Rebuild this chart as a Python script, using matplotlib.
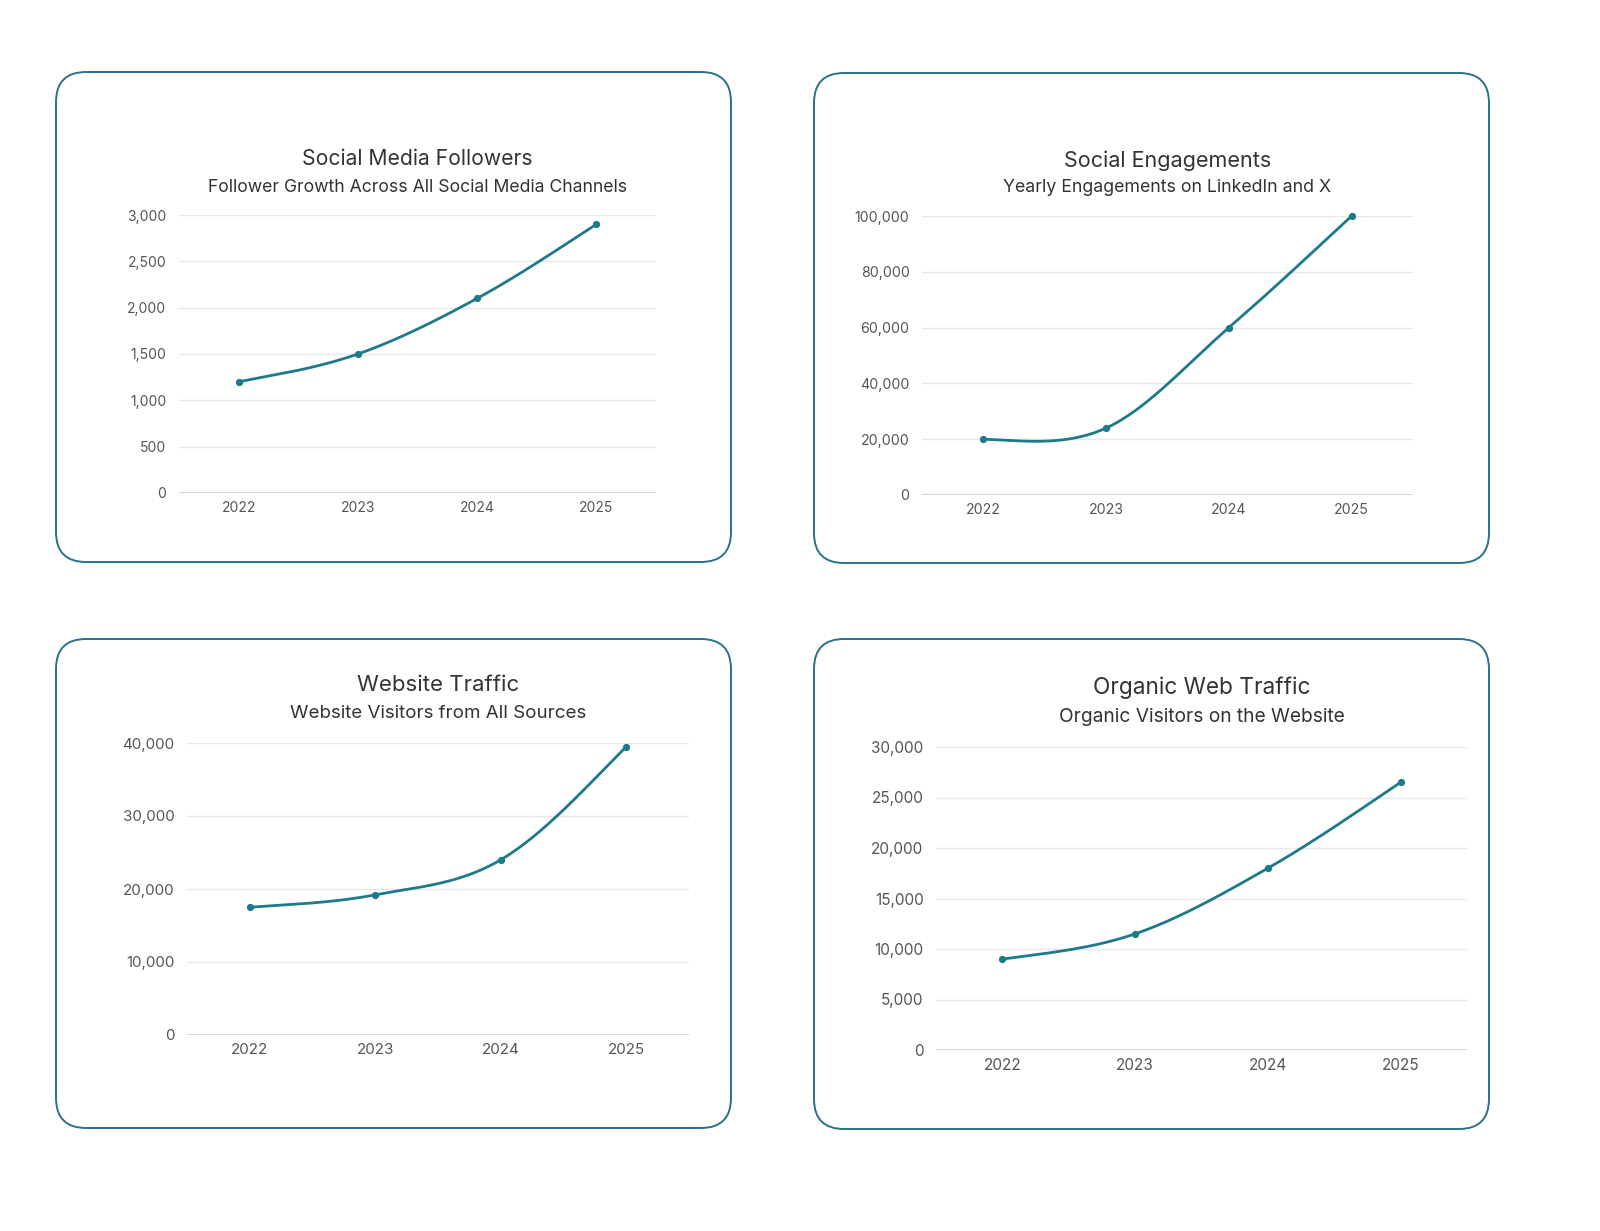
import numpy as np
import matplotlib
matplotlib.use("Agg")
import matplotlib.pyplot as plt
from matplotlib.patches import FancyBboxPatch
from matplotlib.ticker import FuncFormatter
from matplotlib.transforms import IdentityTransform

plt.rcParams['font.family'] = ['Inter', 'DejaVu Sans']

years = ["2022", "2023", "2024", "2025"]
followers = [1200, 1500, 2100, 2900]
engagements = [20000, 24000, 60000, 100000]
website_traffic = [17500, 19200, 24000, 39500]
organic_traffic = [9000, 11500, 18000, 26500]

titles = ["Social Media Followers", "Social Engagements", "Website Traffic", "Organic Web Traffic"]
subtitles = ["Follower Growth Across All Social Media Channels",
             "Yearly Engagements on LinkedIn and X",
             "Website Visitors from All Sources",
             "Organic Visitors on the Website"]
series = [followers, engagements, website_traffic, organic_traffic]
yticks = [list(range(0, 3001, 500)), list(range(0, 100001, 20000)),
          list(range(0, 40001, 10000)), list(range(0, 30001, 5000))]

W, H = 1600, 1231
fig = plt.figure(figsize=(W / 100, H / 100), dpi=100)
fig.patch.set_facecolor("white")

LINE = "#1d7a8a"
BORDER = "#2a7189"

layouts = [
    dict(box=(56, 72, 731, 562), ax=(179, 215, 656, 493), ty=159, sy=187, tfs=15.2, sfs=12.7, kfs=10.0),
    dict(box=(814, 73, 1489, 563), ax=(922, 216, 1413, 495), ty=161, sy=188, tfs=15.5, sfs=12.8, kfs=10.2),
    dict(box=(56, 639, 731, 1128), ax=(187, 743, 689, 1035), ty=685, sy=713, tfs=16.0, sfs=13.5, kfs=10.9),
    dict(box=(814, 639, 1489, 1129), ax=(936, 747, 1467, 1050), ty=688, sy=717, tfs=16.3, sfs=13.8, kfs=11.0),
]


def smooth(y, n=60):
    y = np.asarray(y, dtype=float)
    k = len(y)
    m = np.zeros(k)
    for i in range(1, k - 1):
        m[i] = (y[i + 1] - y[i - 1]) / 2
    d0 = y[1] - y[0]
    d1 = y[-1] - y[-2]
    m[0] = 0.7 * (3 * d0 - m[1]) / 2 + 0.3 * d0
    m[-1] = 0.7 * (3 * d1 - m[-2]) / 2 + 0.3 * d1
    xs, ys = [], []
    for i in range(k - 1):
        t = np.linspace(0, 1, n)
        h00 = 2 * t**3 - 3 * t**2 + 1
        h10 = t**3 - 2 * t**2 + t
        h01 = -2 * t**3 + 3 * t**2
        h11 = t**3 - t**2
        xs.append(i + t)
        ys.append(h00 * y[i] + h10 * m[i] + h01 * y[i + 1] + h11 * m[i + 1])
    return np.concatenate(xs), np.concatenate(ys)


fmt = FuncFormatter(lambda v, p: f"{int(v):,}")

for L, title, sub, vals, yt in zip(layouts, titles, subtitles, series, yticks):
    bx0, by0, bx1, by1 = L["box"]
    box = FancyBboxPatch((bx0 + 15, H - by1 + 15), (bx1 - bx0) - 30, (by1 - by0) - 30,
                         boxstyle="round,pad=15,rounding_size=30",
                         transform=IdentityTransform(), facecolor="none",
                         edgecolor=BORDER, linewidth=1.4, zorder=-1)
    fig.patches.append(box)

    ax0, at, ax1, ab = L["ax"]
    ax = fig.add_axes([ax0 / W, 1 - ab / H, (ax1 - ax0) / W, (ab - at) / H])
    ax.set_facecolor("none")
    x = np.arange(len(years))
    sx, sy = smooth(vals)
    ax.plot(sx, sy, color=LINE, lw=2.0, solid_capstyle="round", zorder=3, clip_on=False)
    ax.plot(x, vals, "o", color=LINE, ms=4.2, zorder=4, clip_on=False)
    ax.set_xlim(-0.5, len(years) - 0.5)
    ax.set_ylim(0, yt[-1])
    ax.set_xticks(x)
    ax.set_xticklabels(years)
    ax.set_yticks(yt)
    ax.yaxis.set_major_formatter(fmt)
    for s in ax.spines.values():
        s.set_visible(False)
    ax.set_axisbelow(True)
    ax.grid(axis="y", color="#e8e8e8", lw=1.0)
    ax.axhline(0, color="#d0d0d0", lw=1.2, zorder=2)
    ax.tick_params(axis="both", length=0, labelsize=L["kfs"], colors="#555555")
    ax.tick_params(axis="y", pad=9)
    ax.tick_params(axis="x", pad=6)

    cx = (ax0 + ax1) / 2
    fig.text(cx / W, 1 - L["ty"] / H, title, ha="center", va="center",
             fontsize=L["tfs"], color="#333333")
    fig.text(cx / W, 1 - L["sy"] / H, sub, ha="center", va="center",
             fontsize=L["sfs"], color="#333333")

fig.savefig("out.png", dpi=100, facecolor="white")
